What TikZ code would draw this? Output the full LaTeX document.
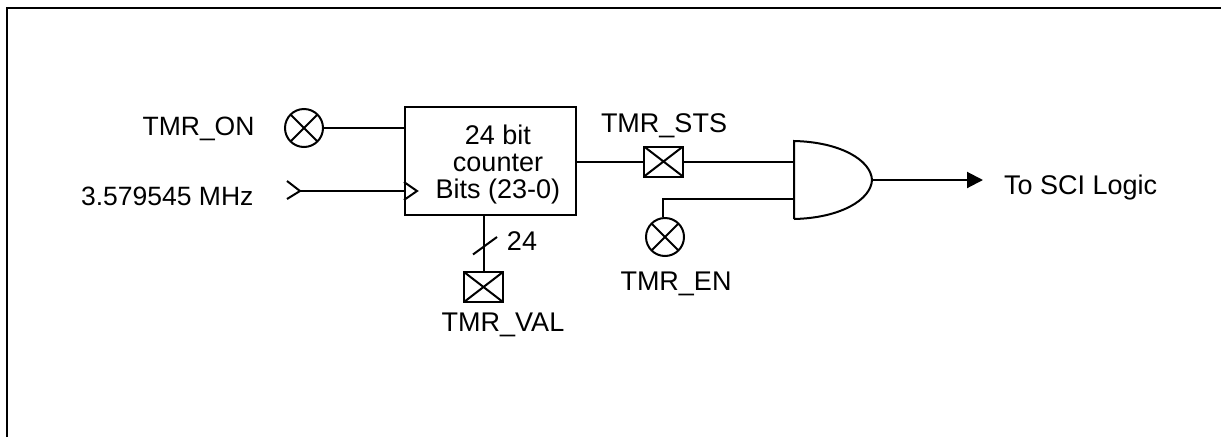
\documentclass[tikz,border=0pt]{standalone}
\usepackage{fontspec}
\setmainfont{Liberation Sans}
\usetikzlibrary{arrows.meta}
\begin{document}
\begin{tikzpicture}[x=1pt,y=-1pt,line width=2pt,every node/.style={font=\fontsize{27}{27}\selectfont,inner sep=0pt},
  label/.style={anchor=center},
  inlabel/.style={anchor=east,font=\fontsize{26.5}{27}\selectfont},
  counter/.style={rectangle,draw,minimum width=171pt,minimum height=108pt},
  flagbit/.style={circle,draw,minimum size=38pt,path picture={\draw (path picture bounding box.north west)--(path picture bounding box.south east) (path picture bounding box.south west)--(path picture bounding box.north east);}},
  regbit/.style={rectangle,draw,minimum width=39pt,minimum height=30pt,path picture={\draw (path picture bounding box.north west)--(path picture bounding box.south east) (path picture bounding box.south west)--(path picture bounding box.north east);}},
  gatebody/.style={rectangle,minimum width=76pt,minimum height=76pt}]
\useasboundingbox (0,0) rectangle (1221,437);
\draw (7,437) -- (7,7.5) -- (1221,7.5);
\node[counter] (cnt) at (490.5,161){};
\node[label,align=center] (cnttext) at (498,165){24 bit\\counter\\Bits (23-0)};
\node[flagbit] (on) at (304,128){};
\node[flagbit] (en) at (665,237){};
\node[regbit] (sts) at (663.5,161.5){};
\node[regbit] (val) at (483.5,287){};
\node[gatebody] (gate) at (833,180){};
\node[inlabel] (onlabel) at (255.5,129){TMR\_ON};
\node[inlabel] (clklabel) at (254.5,196){3.579545 MHz};
\node[label] (stslabel) at (664,126){TMR\_STS};
\node[label] (enlabel) at (676,284){TMR\_EN};
\node[label] (vallabel) at (503,325){TMR\_VAL};
\node[label] (widthlabel) at (522,241){24};
\node[anchor=west] (scilabel) at (1003,188){To SCI Logic};
\coordinate (clkin) at (300,191);
\coordinate (clkpin) at (cnt.west |- clkin);
\coordinate (buscut) at (485,245.5);
% gate outline
\draw[line join=miter] (gate.south west) -- (gate.north west) .. controls (840,142) and (871,160) .. (gate.east) .. controls (871,200) and (840,218) .. (gate.south west);
% clock input
\draw ([shift={(-13,-10)}]clkin) -- (clkin) -- ([shift={(-13,8)}]clkin);
\draw (clkin) -- (clkpin);
\draw ([shift={(0,-9)}]clkpin) -- ([shift={(13,0)}]clkpin) -- ([shift={(0,9)}]clkpin);
% wires
\draw (on) -- (on -| cnt.west);
\draw (sts.west -| cnt.east) -- (sts.west);
\draw (sts.east) -- (sts.east -| gate.west);
\draw (en.north) ++(-2,0) |- (gate.west |- 0,199);
\draw (cnt.south -| val.north) -- (val.north);
\draw ([shift={(-12,9)}]buscut) -- ([shift={(12,-8.5)}]buscut);
\draw[-{Triangle[length=16pt,width=16pt]}] (gate.east) -- (983,180);
\end{tikzpicture}
\end{document}
